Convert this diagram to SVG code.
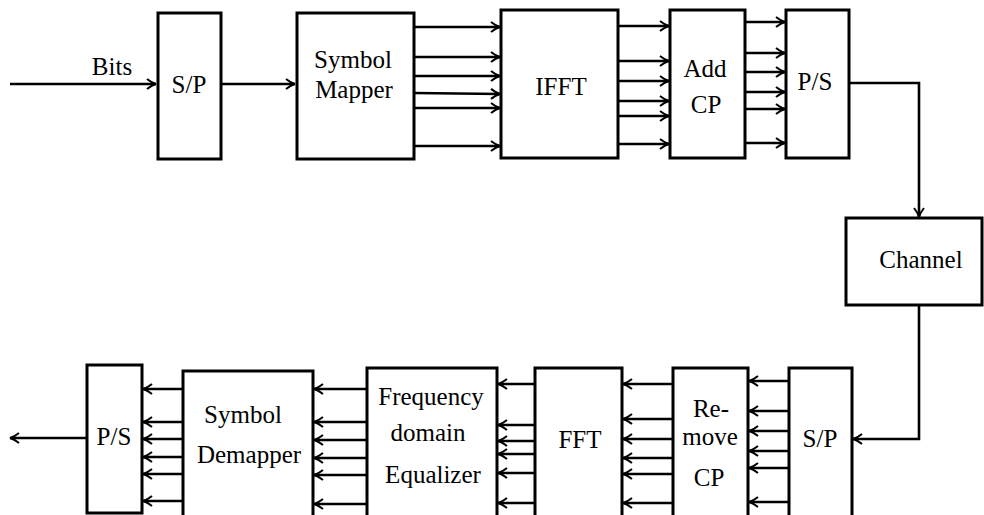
<svg xmlns="http://www.w3.org/2000/svg" width="984" height="515" viewBox="0 0 984 515">
<defs>
<marker id="ah" viewBox="-12 -7 14 14" refX="0" refY="0" markerWidth="14" markerHeight="14" markerUnits="userSpaceOnUse" orient="auto">
<path d="M-9,-5 Q-4,-1 0,0 Q-4,1 -9,5" fill="none" stroke="#000" stroke-width="2"/>
</marker>
</defs>
<rect width="984" height="515" fill="#fff"/>
<g id="connectors" fill="none" stroke="#000" stroke-width="2.6" marker-end="url(#ah)">
<path d="M10,84 H156"/>
<path d="M221,84 H295"/>
<path d="M414,27 H500"/>
<path d="M414,57 H500"/>
<path d="M414,76 H500"/>
<path d="M414,93 L500,94"/>
<path d="M414,108 H500"/>
<path d="M414,146 H500"/>
<path d="M618,26 H669"/>
<path d="M618,61 H669"/>
<path d="M618,81 H669"/>
<path d="M618,101 H669"/>
<path d="M618,116 H669"/>
<path d="M618,144 H669"/>
<path d="M745,22 H785"/>
<path d="M745,53 H785"/>
<path d="M745,72 H785"/>
<path d="M745,92 H785"/>
<path d="M745,109 H785"/>
<path d="M745,143 H785"/>
<path d="M849,83 H919 V217"/>
<path d="M919,305 V439 H853"/>
<path d="M789,381 H749"/>
<path d="M789,411 H749"/>
<path d="M789,431 H749"/>
<path d="M789,451 H749"/>
<path d="M789,468 H749"/>
<path d="M789,502 H749"/>
<path d="M673,384 H623"/>
<path d="M673,419 H623"/>
<path d="M673,439 H623"/>
<path d="M673,458 H623"/>
<path d="M673,474 H623"/>
<path d="M673,503 H623"/>
<path d="M535,384 H498"/>
<path d="M535,425 H498"/>
<path d="M535,441 H498"/>
<path d="M535,454 H498"/>
<path d="M535,473 H498"/>
<path d="M535,503 H498"/>
<path d="M367,389 H314"/>
<path d="M367,422 H314"/>
<path d="M367,440 H314"/>
<path d="M367,458 H314"/>
<path d="M367,475 H314"/>
<path d="M367,504 H314"/>
<path d="M183,389 H143"/>
<path d="M183,422 H143"/>
<path d="M183,439 H143"/>
<path d="M183,457 H143"/>
<path d="M183,474 H143"/>
<path d="M183,501 H143"/>
<path d="M87,438 H10"/>
</g>
<g font-family="Times New Roman, Liberation Serif, serif" font-size="25" text-anchor="middle" fill="#000">
<text x="112" y="75">Bits</text>
<g id="sp_tx"><rect x="158" y="13" width="63" height="146" fill="#fff" stroke="#000" stroke-width="3"/><text x="189" y="93">S/P</text></g>
<g id="mapper"><rect x="297" y="13" width="117" height="146" fill="#fff" stroke="#000" stroke-width="3"/><text x="353" y="68">Symbol</text><text x="354" y="98">Mapper</text></g>
<g id="ifft"><rect x="501" y="10" width="117" height="148" fill="#fff" stroke="#000" stroke-width="3"/><text x="561" y="95">IFFT</text></g>
<g id="addcp"><rect x="670" y="10" width="75" height="148" fill="#fff" stroke="#000" stroke-width="3"/><text x="705" y="77">Add</text><text x="706" y="113">CP</text></g>
<g id="ps_tx"><rect x="786" y="10" width="63" height="148" fill="#fff" stroke="#000" stroke-width="3"/><text x="815" y="90">P/S</text></g>
<g id="channel"><rect x="846" y="218" width="136" height="87" fill="#fff" stroke="#000" stroke-width="3"/><text x="921" y="268">Channel</text></g>
<g id="sp_rx"><rect x="789" y="368" width="63" height="162" fill="#fff" stroke="#000" stroke-width="3"/><text x="820" y="447">S/P</text></g>
<g id="removecp"><rect x="673" y="368" width="75" height="162" fill="#fff" stroke="#000" stroke-width="3"/><text x="711" y="417">Re-</text><text x="710" y="445">move</text><text x="709" y="486">CP</text></g>
<g id="fft"><rect x="535" y="368" width="87" height="162" fill="#fff" stroke="#000" stroke-width="3"/><text x="580" y="448">FFT</text></g>
<g id="equalizer"><rect x="367" y="368" width="130" height="162" fill="#fff" stroke="#000" stroke-width="3"/><text x="431" y="405">Frequency</text><text x="428" y="441">domain</text><text x="433" y="483">Equalizer</text></g>
<g id="demapper"><rect x="183" y="371" width="130" height="159" fill="#fff" stroke="#000" stroke-width="3"/><text x="243" y="423">Symbol</text><text x="249" y="463">Demapper</text></g>
<g id="ps_rx"><rect x="87" y="365" width="55" height="148" fill="#fff" stroke="#000" stroke-width="3"/><text x="114" y="445">P/S</text></g>
</g>
</svg>
